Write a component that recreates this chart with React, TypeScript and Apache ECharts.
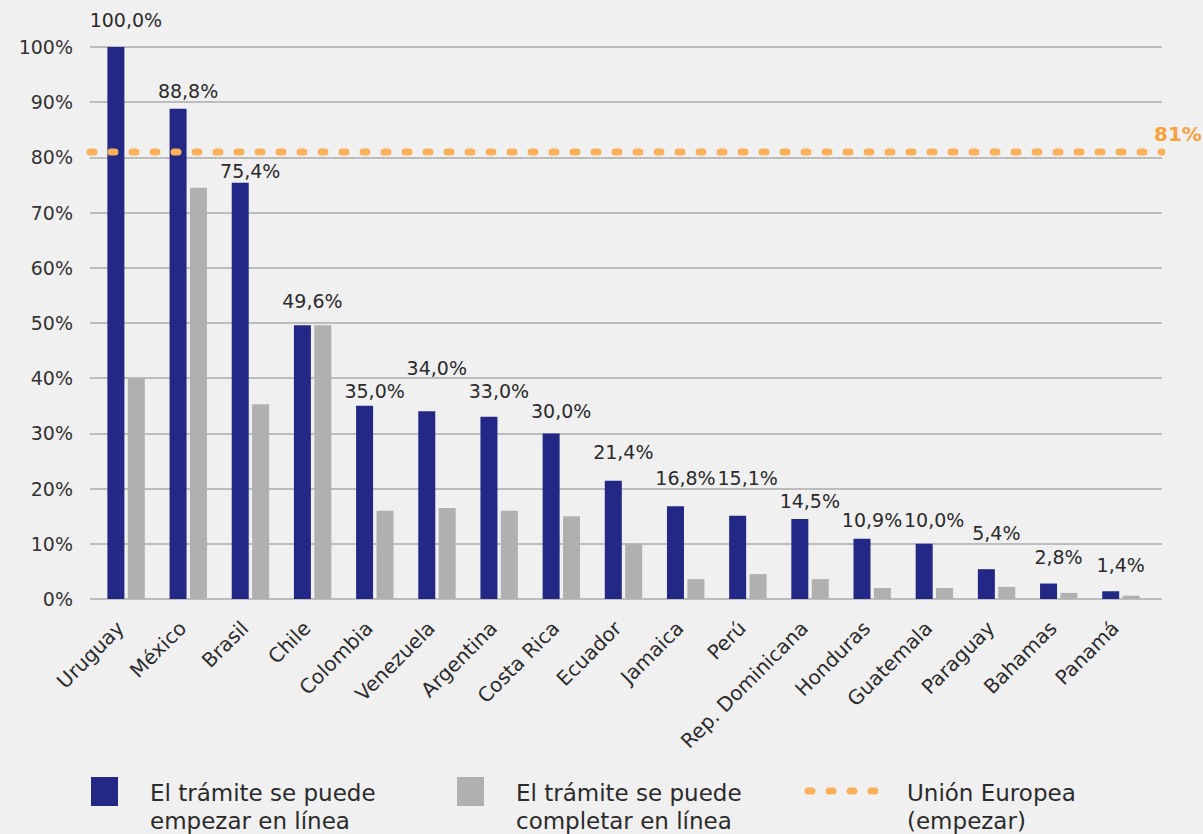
import React, { useEffect, useRef } from "react";
import * as echarts from "echarts";

const categories = [
  "Uruguay", "México", "Brasil", "Chile", "Colombia", "Venezuela", "Argentina",
  "Costa Rica", "Ecuador", "Jamaica", "Perú", "Rep. Dominicana", "Honduras",
  "Guatemala", "Paraguay", "Bahamas", "Panamá",
];
const empezar = [100.0, 88.8, 75.4, 49.6, 35.0, 34.0, 33.0, 30.0, 21.4, 16.8, 15.1, 14.5, 10.9, 10.0, 5.4, 2.8, 1.4];
const completar = [40.0, 74.5, 35.3, 49.6, 16.0, 16.5, 16.0, 15.0, 10.0, 3.6, 4.5, 3.6, 2.0, 2.0, 2.2, 1.1, 0.6];
const ueEmpezar = 81;
const yTicks = [0, 10, 20, 30, 40, 50, 60, 70, 80, 90, 100];

// vertical gap (px) between bar top and the centre of its value label, as drawn in the source
const labelGap = [27, 18, 12, 24, 15, 43, 26, 22, 29, 28, 38, 18, 19, 24, 36, 27, 26];

const FONT = "DejaVu Sans";
const BLUE = "#232886";
const GRAY = "#b0b0b0";
const ORANGE = "#fbb15b";
const TEXT = "#2b2b2b";

const fmt = (v: number) => v.toFixed(1).replace(".", ",") + "%";

export default function App() {
  const ref = useRef<HTMLDivElement>(null);
  useEffect(() => {
    if (!ref.current) return;
    const chart = echarts.init(ref.current, undefined, { renderer: "svg" });
    const legendText = { fontFamily: FONT, fontSize: 23, lineHeight: 28, fill: TEXT };
    const option: any = {
      animation: false,
      backgroundColor: "#f0f0f0",
      textStyle: { fontFamily: FONT },
      grid: [
        { left: 90, right: 41, top: 47, bottom: 235 },
        { left: 95, right: 51, top: 47, bottom: 235 },
      ],
      xAxis: [
        { gridIndex: 0, type: "value", min: 0, max: 1, show: false },
        {
          gridIndex: 1,
          type: "category",
          data: categories,
          axisLine: { show: false },
          axisTick: { show: false },
          axisLabel: {
            rotate: 45,
            interval: 0,
            margin: 20,
            padding: [0, 8, 0, 0],
            fontFamily: FONT,
            fontSize: 20,
            color: TEXT,
          },
        },
      ],
      yAxis: [
        {
          gridIndex: 0,
          type: "value",
          min: 0,
          max: 100,
          interval: 10,
          axisLine: { show: false },
          axisTick: { show: false },
          axisLabel: {
            margin: 17,
            fontFamily: FONT,
            fontSize: 19,
            color: "#333",
            formatter: (v: number) => (yTicks.includes(v) ? v + "%" : ""),
          },
          splitLine: { lineStyle: { color: "#bcbcbc", width: 2 } },
        },
        { gridIndex: 1, type: "value", min: 0, max: 100, show: false },
      ],
      series: [
        {
          name: "El trámite se puede empezar en línea",
          type: "bar",
          xAxisIndex: 1,
          yAxisIndex: 1,
          barWidth: 17,
          barGap: "20%",
          itemStyle: { color: BLUE },
          data: empezar.map((v, i) => ({
            value: v,
            label: {
              show: true,
              position: "top",
              distance: labelGap[i] - 11,
              offset: [10, 0],
              formatter: fmt(v),
              fontFamily: FONT,
              fontSize: 19,
              lineHeight: 22,
              color: TEXT,
            },
          })),
        },
        {
          name: "El trámite se puede completar en línea",
          type: "bar",
          xAxisIndex: 1,
          yAxisIndex: 1,
          barWidth: 17,
          itemStyle: { color: GRAY },
          data: completar,
        },
        {
          name: "Unión Europea (empezar)",
          type: "line",
          xAxisIndex: 0,
          yAxisIndex: 0,
          symbol: "none",
          z: 5,
          lineStyle: { color: ORANGE, width: 7, type: [4, 17], cap: "round" },
          endLabel: {
            show: true,
            formatter: ueEmpezar + "%",
            distance: 0,
            offset: [-8, -18],
            fontFamily: FONT,
            fontSize: 20,
            fontWeight: "bold",
            color: "#f6a03e",
          },
          data: [
            [0, ueEmpezar],
            [1, ueEmpezar],
          ],
        },
      ],
      graphic: [
        { type: "rect", left: 91, top: 777, shape: { width: 27, height: 29 }, style: { fill: BLUE } },
        { type: "text", left: 150, top: 779, style: { text: "El trámite se puede\nempezar en línea", ...legendText } },
        { type: "rect", left: 457, top: 777, shape: { width: 27, height: 29 }, style: { fill: GRAY } },
        { type: "text", left: 516, top: 779, style: { text: "El trámite se puede\ncompletar en línea", ...legendText } },
        {
          type: "line",
          shape: { x1: 808, y1: 791, x2: 888, y2: 791 },
          style: { stroke: ORANGE, lineWidth: 7, lineDash: [4, 17], lineCap: "round" },
        },
        { type: "text", left: 907, top: 779, style: { text: "Unión Europea\n(empezar)", ...legendText } },
      ],
    };
    chart.setOption(option);
    return () => chart.dispose();
  }, []);
  return <div ref={ref} style={{ width: 1203, height: 834, position: "absolute", left: 0, top: 0 }} />;
}
